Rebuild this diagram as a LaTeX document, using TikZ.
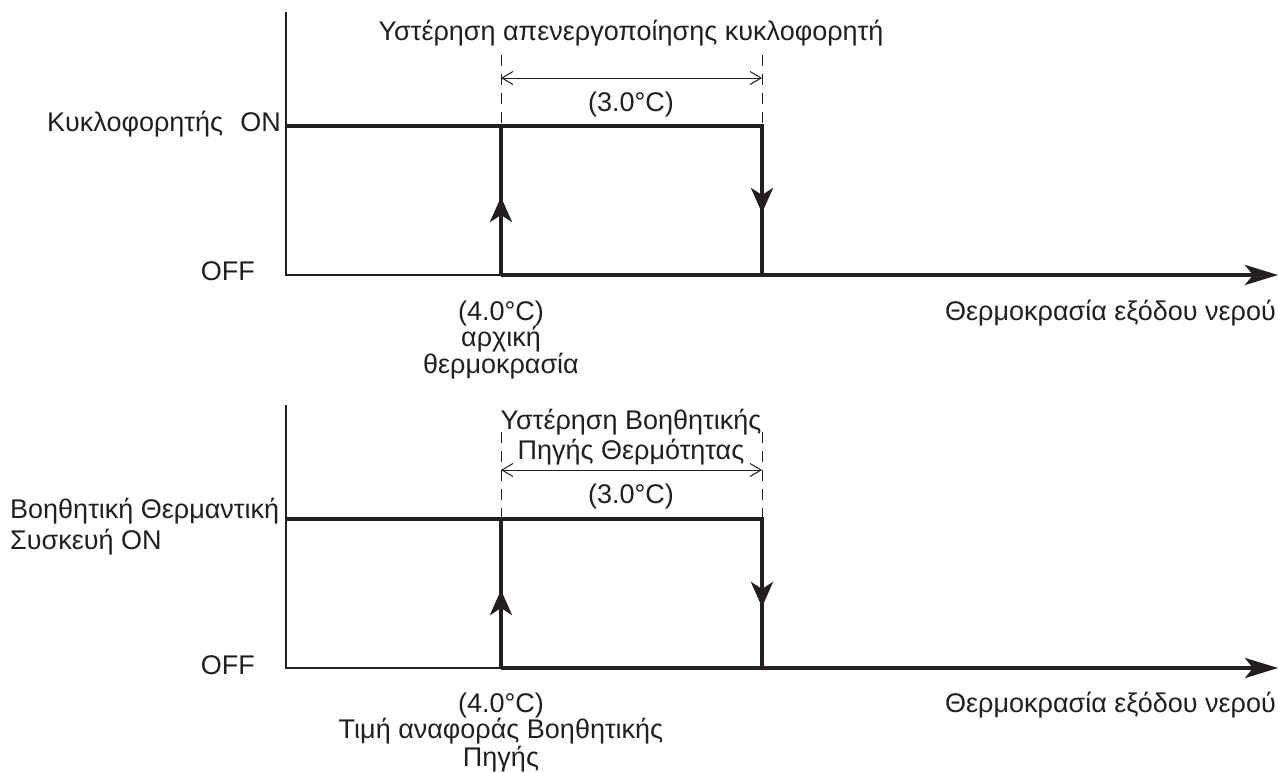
\documentclass[tikz,border=0pt]{standalone}
\usepackage{fontspec}
\setmainfont{Liberation Sans}
\usetikzlibrary{arrows.meta}
\definecolor{ln}{HTML}{231F20}
\definecolor{txt}{HTML}{231F20}
\begin{document}
\begin{tikzpicture}[x=1pt,y=-1pt,
  lbl/.style={inner sep=0pt, font=\fontsize{27}{30}\selectfont, text=txt},
  sig/.style={line width=4pt, draw=ln, line join=miter},
  axisln/.style={line width=1.2pt, draw=ln},
  dimln/.style={line width=1pt, draw=ln, {Straight Barb[length=11pt,width=13pt]}-{Straight Barb[length=11pt,width=13pt]}},
  dsh/.style={line width=1pt, draw=ln, dash pattern=on 11pt off 8pt},
  midarrow/.style={line width=4pt, draw=ln, fill=ln, -{Stealth[length=25pt,width=22pt,inset=7pt]}},
  harrow/.style={line width=4pt, draw=ln, -{Stealth[length=33pt,width=20pt,inset=8pt]}}
]
\useasboundingbox (0,0) rectangle (1278,772);

% ===== Top graph =====
\coordinate (ta0) at (286,12);
\coordinate (ton0) at (286,126);
\coordinate (toff0) at (286,275);
\coordinate (tonA) at (501,126);
\coordinate (toffA) at (501,275);
\coordinate (tonB) at (762,126);
\coordinate (toffB) at (762,275);
\coordinate (tend) at (1278,275);
\coordinate (tdA) at (501,55);
\coordinate (tdB) at (762,55);
\coordinate (tdimA) at (501,78);
\coordinate (tdimB) at (762,78);
\coordinate (tupBase) at (501,235);
\coordinate (tupTip) at (501,197);
\coordinate (tdnBase) at (762,170);
\coordinate (tdnTip) at (762,213);

\draw[axisln] (ta0) -- (toff0) -- (toffA);
\draw[sig] (ton0) -- (tonB) -- (toffB);
\draw[sig] (toffA) -- (tonA);
\draw[harrow] (toffA) -- (tend);
\draw[midarrow] (tupBase) -- (tupTip);
\draw[midarrow] (tdnBase) -- (tdnTip);
\draw[dsh] (tdA) -- (tonA);
\draw[dsh] (tdB) -- (tonB);
\draw[dimln] (tdimA) -- (tdimB);

\node[lbl, anchor=base] (ttitle) at (631,40) {Υστέρηση απενεργοποίησης κυκλοφορητή};
\node[lbl, anchor=base] (tdeg) at (631,111) {(3.0°C)};
\node[lbl, anchor=base west] (tonname) at (47,131) {Κυκλοφορητής};
\node[lbl, anchor=base east] (ton) at (281,131) {ON};
\node[lbl, anchor=base east] (toff) at (255,280) {OFF};
\node[lbl, anchor=base] (tstart1) at (501,320) {(4.0°C)};
\node[lbl, anchor=base] (tstart2) at (501,346) {αρχική};
\node[lbl, anchor=base] (tstart3) at (501,373) {θερμοκρασία};
\node[lbl, anchor=base east] (txlab) at (1276,320) {Θερμοκρασία εξόδου νερού};

% ===== Bottom graph =====
\coordinate (ba0) at (286,405);
\coordinate (bon0) at (286,519);
\coordinate (boff0) at (286,668);
\coordinate (bonA) at (501,519);
\coordinate (boffA) at (501,668);
\coordinate (bonB) at (762,519);
\coordinate (boffB) at (762,668);
\coordinate (bend) at (1278,668);
\coordinate (bdA) at (501,432);
\coordinate (bdB) at (762,432);
\coordinate (bdimA) at (501,470);
\coordinate (bdimB) at (762,470);
\coordinate (bupBase) at (501,628);
\coordinate (bupTip) at (501,590);
\coordinate (bdnBase) at (762,564);
\coordinate (bdnTip) at (762,607);

\draw[axisln] (ba0) -- (boff0) -- (boffA);
\draw[sig] (bon0) -- (bonB) -- (boffB);
\draw[sig] (boffA) -- (bonA);
\draw[harrow] (boffA) -- (bend);
\draw[midarrow] (bupBase) -- (bupTip);
\draw[midarrow] (bdnBase) -- (bdnTip);
\draw[dsh] (bdA) -- (bonA);
\draw[dsh] (bdB) -- (bonB);
\draw[dimln] (bdimA) -- (bdimB);

\node[lbl, anchor=base] (btitle1) at (631,429) {Υστέρηση Βοηθητικής};
\node[lbl, anchor=base] (btitle2) at (631,459) {Πηγής Θερμότητας};
\node[lbl, anchor=base] (bdeg) at (631,503) {(3.0°C)};
\node[lbl, anchor=base west] (bon1) at (10,518) {Βοηθητική Θερμαντική};
\node[lbl, anchor=base west] (bon2) at (10,549) {Συσκευή ON};
\node[lbl, anchor=base east] (boff) at (255,674) {OFF};
\node[lbl, anchor=base] (bstart1) at (501,712) {(4.0°C)};
\node[lbl, anchor=base] (bstart2) at (501,738) {Τιμή αναφοράς Βοηθητικής};
\node[lbl, anchor=base] (bstart3) at (501,766) {Πηγής};
\node[lbl, anchor=base east] (bxlab) at (1276,712) {Θερμοκρασία εξόδου νερού};
\end{tikzpicture}
\end{document}
